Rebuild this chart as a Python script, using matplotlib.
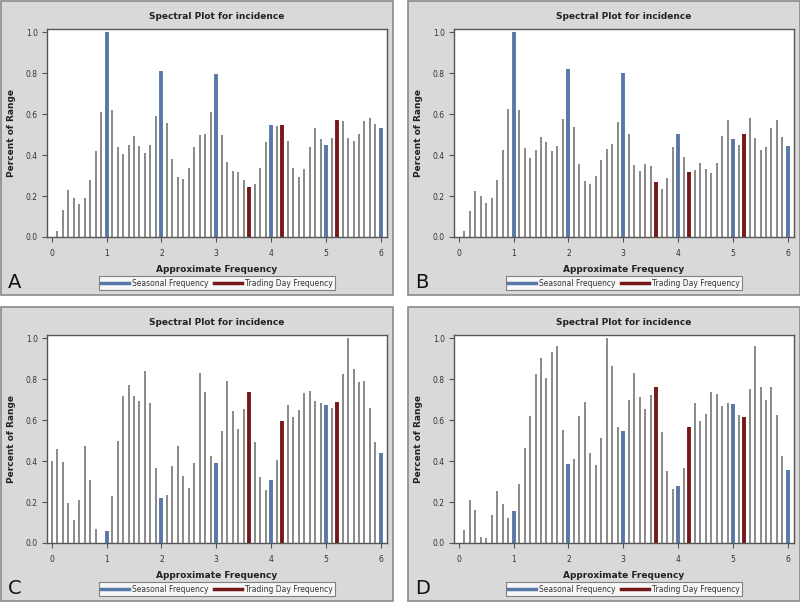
import matplotlib
matplotlib.use("Agg")
import matplotlib.pyplot as plt
import numpy as np
from matplotlib.patches import Rectangle
from matplotlib.lines import Line2D

# approximate frequency, 0.0 .. 6.0 step 0.1
freq = np.round(np.arange(0, 61) / 10.0, 1)

seasonal = [1.0, 2.0, 3.0, 4.0, 5.0, 6.0]
trading = [3.6, 4.2, 5.2]

vals_a = [0.00, 0.03, 0.13, 0.23, 0.19, 0.16, 0.19, 0.28, 0.42, 0.61,
          1.00, 0.62, 0.44, 0.405, 0.45, 0.495, 0.445, 0.41, 0.45, 0.59,
          0.81, 0.555, 0.38, 0.293, 0.283, 0.335, 0.44, 0.498, 0.505, 0.61,
          0.793, 0.50, 0.365, 0.324, 0.315, 0.28, 0.245, 0.26, 0.335, 0.465,
          0.545, 0.54, 0.545, 0.47, 0.335, 0.295, 0.33, 0.44, 0.53, 0.48,
          0.45, 0.485, 0.57, 0.565, 0.485, 0.47, 0.505, 0.565, 0.58, 0.55,
          0.53]
vals_b = [0.00, 0.03, 0.128, 0.223, 0.20, 0.164, 0.189, 0.28, 0.426, 0.626,
          1.00, 0.62, 0.435, 0.384, 0.423, 0.49, 0.465, 0.42, 0.445, 0.577,
          0.82, 0.535, 0.355, 0.275, 0.26, 0.30, 0.377, 0.428, 0.452, 0.563,
          0.80, 0.502, 0.35, 0.32, 0.356, 0.345, 0.268, 0.236, 0.288, 0.437,
          0.502, 0.39, 0.315, 0.328, 0.363, 0.332, 0.31, 0.36, 0.494, 0.57,
          0.476, 0.447, 0.502, 0.579, 0.485, 0.423, 0.44, 0.53, 0.57, 0.49,
          0.446]
vals_c = [0.40, 0.46, 0.396, 0.193, 0.114, 0.208, 0.474, 0.307, 0.068, 0.00,
          0.057, 0.229, 0.498, 0.717, 0.771, 0.717, 0.695, 0.838, 0.685, 0.364,
          0.222, 0.235, 0.378, 0.474, 0.328, 0.268, 0.388, 0.83, 0.739, 0.424,
          0.39, 0.547, 0.789, 0.643, 0.558, 0.654, 0.739, 0.492, 0.32, 0.261,
          0.307, 0.406, 0.593, 0.672, 0.615, 0.649, 0.732, 0.74, 0.695, 0.683,
          0.675, 0.659, 0.688, 0.826, 1.00, 0.849, 0.784, 0.792, 0.657, 0.494,
          0.438]
vals_d = [0.00, 0.065, 0.21, 0.16, 0.03, 0.025, 0.135, 0.255, 0.19, 0.12,
          0.155, 0.29, 0.465, 0.62, 0.825, 0.905, 0.805, 0.93, 0.96, 0.55,
          0.385, 0.41, 0.62, 0.69, 0.44, 0.38, 0.513, 1.00, 0.865, 0.567,
          0.547, 0.696, 0.83, 0.714, 0.654, 0.722, 0.76, 0.54, 0.352, 0.265,
          0.279, 0.368, 0.565, 0.682, 0.594, 0.63, 0.739, 0.727, 0.67, 0.682,
          0.677, 0.623, 0.615, 0.752, 0.963, 0.761, 0.70, 0.761, 0.623, 0.425,
          0.357]

panels = [("A", vals_a), ("B", vals_b), ("C", vals_c), ("D", vals_d)]

W, H = 800, 602
BLUE = "#5878a8"
RED = "#761818"
GRAY = "#808080"
BG = "#d9d9d9"

fig = plt.figure(figsize=(W / 100, H / 100), dpi=100)
fig.patch.set_facecolor("white")


def fx(px):
    return px / W


def fy(py):
    return 1 - py / H


for i, (letter, vals) in enumerate(panels):
    ox = 0 if i % 2 == 0 else 407
    oy = 0 if i < 2 else 306

    # gray panel box (behind the axes)
    fig.patches.append(Rectangle((fx(ox + 0.5), fy(oy + 295)), 392 / W, 294.5 / H,
                                 transform=fig.transFigure, facecolor=BG,
                                 edgecolor="#8a8a8a", lw=1.2, zorder=-5))

    # plot area
    l, r, t, b = ox + 47, ox + 387, oy + 29, oy + 237
    ax = fig.add_axes([fx(l), fy(b), (r - l) / W, (b - t) / H])
    ax.set_facecolor("white")
    for s in ax.spines.values():
        s.set_color("#555555")
        s.set_linewidth(1.0)

    vals = np.array(vals)
    is_s = np.isin(freq, seasonal)
    is_t = np.isin(freq, trading)
    other = ~(is_s | is_t)
    ax.vlines(freq[other], 0, vals[other], color=GRAY, lw=1.3)
    ax.vlines(freq[is_s], 0, vals[is_s], color=BLUE, lw=2.8)
    ax.vlines(freq[is_t], 0, vals[is_t], color=RED, lw=2.8)

    ax.set_xlim(-0.085, 6.11)
    ax.set_ylim(0, 1.015)
    ax.set_xticks(range(7))
    ax.set_yticks([0, 0.2, 0.4, 0.6, 0.8, 1.0])
    ax.set_yticklabels(["0.0", "0.2", "0.4", "0.6", "0.8", "1.0"])
    ax.tick_params(direction="out", length=3.5, width=0.8, color="#555555",
                   labelsize=5.5, labelcolor="#333333", pad=3)
    ax.tick_params(axis="x", pad=5)

    ax.set_title("Spectral Plot for incidence", fontsize=6.5, fontweight="bold",
                 color="#222222", pad=7)
    ax.set_xlabel("Approximate Frequency", fontsize=6.5, fontweight="bold",
                  color="#222222", labelpad=5)
    ax.set_ylabel("Percent of Range", fontsize=6.5, fontweight="bold",
                  color="#222222", labelpad=7)

    handles = [Line2D([], [], color=BLUE, lw=2.5),
               Line2D([], [], color=RED, lw=2.5)]
    leg = fig.legend(handles, ["Seasonal Frequency", "Trading Day Frequency"],
                     loc="center", bbox_to_anchor=(fx(ox + 217), fy(oy + 283)),
                     ncol=2, fontsize=5.5, frameon=True, fancybox=False,
                     handlelength=3.6, handletextpad=0.4, columnspacing=0.8,
                     borderpad=0.35, borderaxespad=0)
    leg.get_frame().set_edgecolor("#666666")
    leg.get_frame().set_linewidth(0.8)
    for txt in leg.get_texts():
        txt.set_color("#333333")

    fig.text(fx(ox + 8), fy(oy + 283), letter, fontsize=14, va="center",
             ha="left", color="#111111")

fig.savefig("out.png", dpi=100, facecolor="white")
